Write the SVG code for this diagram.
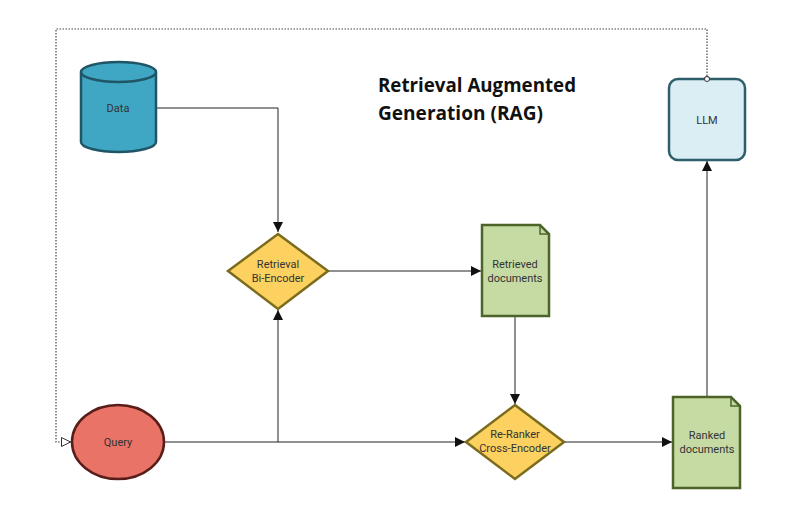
<svg xmlns="http://www.w3.org/2000/svg" width="805" height="526" viewBox="0 0 805 526">
<defs>
<marker id="arr" viewBox="0 0 10 10" refX="10" refY="5" markerWidth="10" markerHeight="10" markerUnits="userSpaceOnUse" orient="auto">
<path d="M0,0 L10,5 L0,10 Z" fill="#111"/>
</marker>
<marker id="open" viewBox="0 0 10 10" refX="10" refY="5" markerWidth="10" markerHeight="10" markerUnits="userSpaceOnUse" orient="auto">
<path d="M0.5,0.5 L9.5,5 L0.5,9.5 Z" fill="#fff" stroke="#333" stroke-width="1"/>
</marker>
</defs>
<style>
.lbl{font-family:Roboto,"Liberation Sans",sans-serif;font-size:11px;fill:#333;text-anchor:middle}
.title{font-family:"Open Sans","Liberation Sans",sans-serif;font-size:19px;font-weight:bold;fill:#111}
.conn{fill:none;stroke:#222;stroke-width:1}
.dot{fill:none;stroke:#444;stroke-width:1.2;stroke-dasharray:1.5 1.5}
.diam{fill:#fcd160;stroke:#7b6b1c;stroke-width:2.5}
.doc{fill:#c6dba4;stroke:#4c6428;stroke-width:2.5}
</style>
<rect width="805" height="526" fill="#fff"/>
<text class="title" x="378" y="92" textLength="198" lengthAdjust="spacingAndGlyphs">Retrieval Augmented</text>
<text class="title" x="378" y="120" textLength="165" lengthAdjust="spacingAndGlyphs">Generation (RAG)</text>
<g id="connectors">
<path class="conn" d="M156,108 H278 V232" marker-end="url(#arr)"/>
<path class="conn" d="M164,442 H465" marker-end="url(#arr)"/>
<path class="conn" d="M278,442 V310" marker-end="url(#arr)"/>
<path class="conn" d="M328,271 H481" marker-end="url(#arr)"/>
<path class="conn" d="M515,316 V404" marker-end="url(#arr)"/>
<path class="conn" d="M564,442 H672" marker-end="url(#arr)"/>
<path class="conn" d="M707,397 V161" marker-end="url(#arr)"/>
<path class="dot" d="M707,76 V29 H56 V442 H71" marker-end="url(#open)"/>
<circle cx="707" cy="79" r="2.5" fill="#fff" stroke="#333" stroke-width="1"/>
</g>
<g id="data">
<path d="M81,72 V142 A37.5,10 0 0 0 156,142 V72" fill="#3fa7c3" stroke="#1f5566" stroke-width="2.5"/>
<ellipse cx="118.5" cy="72" rx="37.5" ry="10" fill="#3fa7c3" stroke="#1f5566" stroke-width="2.5"/>
<text class="lbl" x="118" y="112">Data</text>
</g>
<g id="llm">
<rect x="669" y="79" width="76" height="81" rx="9" fill="#daeef4" stroke="#2f5e6b" stroke-width="2.5"/>
<circle cx="707" cy="79" r="2.5" fill="#fff" stroke="#333" stroke-width="1"/>
<text class="lbl" x="707" y="124">LLM</text>
</g>
<g id="retrieval">
<polygon class="diam" points="278,234 328,271 278,309 228,271"/>
<text class="lbl" x="278" y="268">Retrieval</text>
<text class="lbl" x="278" y="282">Bi-Encoder</text>
</g>
<g id="retrieved">
<path class="doc" d="M482,225 H540 L549,234 V316 H482 Z"/>
<path d="M540,225 V234 H549" fill="none" stroke="#4c6428" stroke-width="1.5"/>
<text class="lbl" x="515" y="268">Retrieved</text>
<text class="lbl" x="515" y="282">documents</text>
</g>
<g id="query">
<ellipse cx="118" cy="442" rx="46" ry="37" fill="#e87366" stroke="#5a1e1a" stroke-width="2.5"/>
<text class="lbl" x="118" y="446">Query</text>
</g>
<g id="reranker">
<polygon class="diam" points="515,405 564,442 515,479 466,442"/>
<text class="lbl" x="515" y="438">Re-Ranker</text>
<text class="lbl" x="515" y="452">Cross-Encoder</text>
</g>
<g id="ranked">
<path class="doc" d="M673,397 H731 L740,406 V488 H673 Z"/>
<path d="M731,397 V406 H740" fill="none" stroke="#4c6428" stroke-width="1.5"/>
<text class="lbl" x="707" y="439">Ranked</text>
<text class="lbl" x="707" y="453">documents</text>
</g>
</svg>
